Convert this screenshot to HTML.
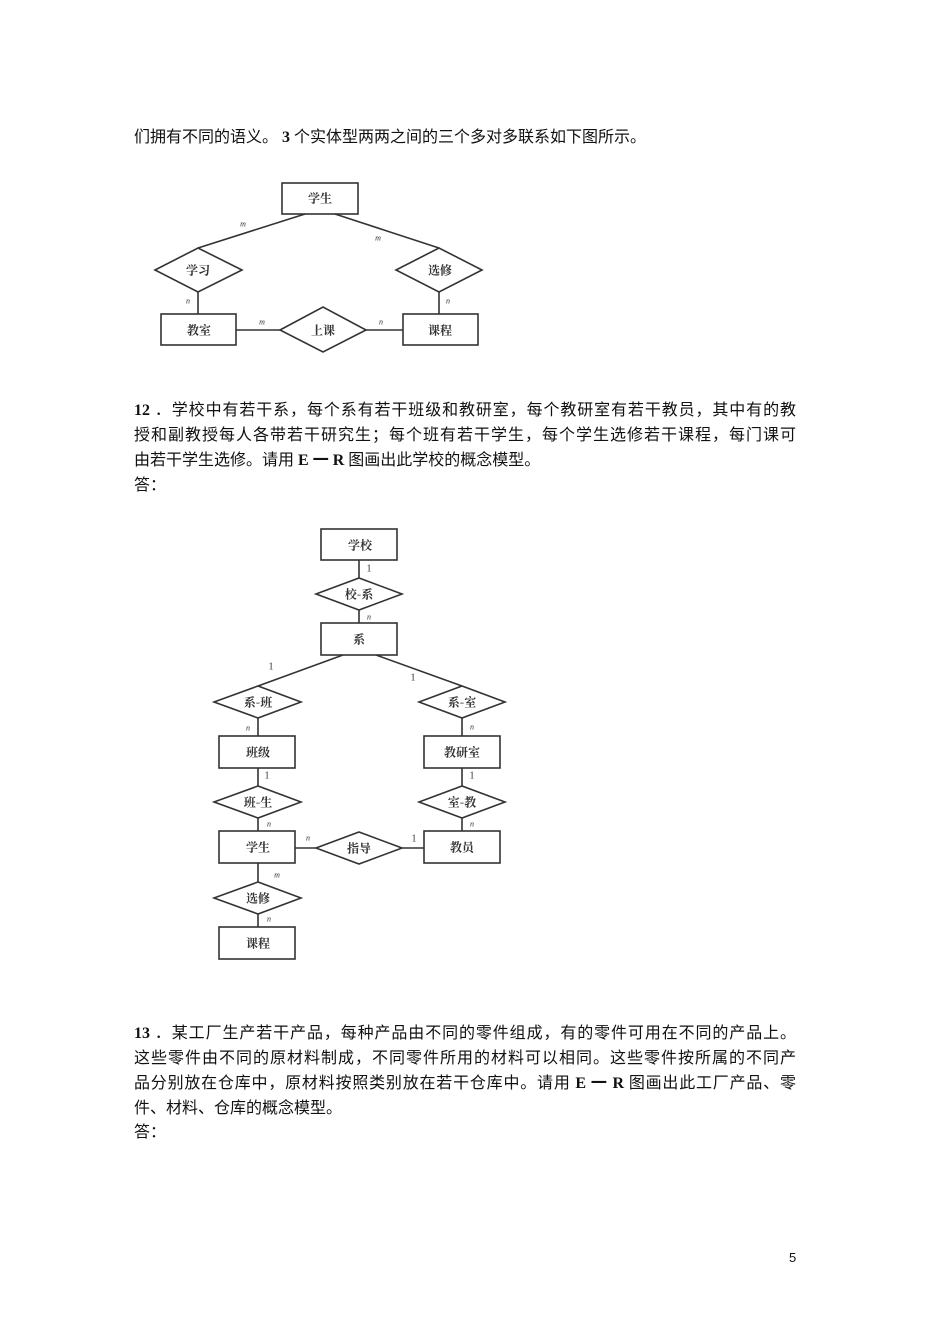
<!DOCTYPE html>
<html><head><meta charset="utf-8"><style>
body{margin:0;background:#fff;width:950px;height:1344px;position:relative;overflow:hidden;font-family:"Liberation Serif","Noto Sans CJK SC",sans-serif;color:#111}
.l{position:absolute;left:134px;font-size:16px;line-height:20px;white-space:nowrap}
.j{width:662px;text-align:justify;text-align-last:justify}
svg{position:absolute;left:0;top:0}
svg text{font-family:"Noto Serif CJK SC","Noto Sans CJK SC",serif;font-size:12px;font-weight:bold;text-anchor:middle;dominant-baseline:central;fill:#333}
svg text.s{font-family:"Liberation Serif",serif;font-style:italic;font-weight:normal;font-size:8px}
</style></head><body>
<div class="l" style="top:128px">们拥有不同的语义。 <b>3</b> 个实体型两两之间的三个多对多联系如下图所示。</div>
<div class="l j" style="top:401px"><b>12</b> ．学校中有若干系，每个系有若干班级和教研室，每个教研室有若干教员，其中有的教</div>
<div class="l j" style="top:426px">授和副教授每人各带若干研究生；每个班有若干学生，每个学生选修若干课程，每门课可</div>
<div class="l" style="top:451px">由若干学生选修。请用 <b>E 一 R</b> 图画出此学校的概念模型。</div>
<div class="l" style="top:476px">答：</div>
<div class="l j" style="top:1024px"><b>13</b> ．某工厂生产若干产品，每种产品由不同的零件组成，有的零件可用在不同的产品上。</div>
<div class="l j" style="top:1049px">这些零件由不同的原材料制成，不同零件所用的材料可以相同。这些零件按所属的不同产</div>
<div class="l j" style="top:1074px">品分别放在仓库中，原材料按照类别放在若干仓库中。请用 <b>E 一 R</b> 图画出此工厂产品、零</div>
<div class="l" style="top:1099px">件、材料、仓库的概念模型。</div>
<div class="l" style="top:1123px">答：</div>
<div class="l" style="top:1248px;left:789px;font-family:'Liberation Sans',sans-serif;font-size:13px">5</div>
<svg width="950" height="1344" stroke="#333" stroke-width="1.6" fill="none">
<line x1="305" y1="214" x2="198" y2="248"/><line x1="335" y1="214" x2="439" y2="248"/>
<line x1="198" y1="292" x2="198" y2="314"/><line x1="439" y1="292" x2="439" y2="314"/>
<line x1="236" y1="330" x2="280" y2="330"/><line x1="366" y1="330" x2="403" y2="330"/>
<rect x="282" y="183" width="76" height="31"/>
<rect x="161" y="314" width="75" height="31"/>
<rect x="403" y="314" width="75" height="31"/>
<polygon points="155,270 198,248 242,270 198,292"/>
<polygon points="396,270 439,248 482,270 439,292"/>
<polygon points="280,330 323,307 366,330 323,352"/>
<g stroke="none">
<text x="320" y="198">学生</text><text x="198" y="270">学习</text><text x="440" y="270">选修</text>
<text x="199" y="330">教室</text><text x="323" y="330">上课</text><text x="440" y="330">课程</text>
<text class="s" x="243" y="224">m</text><text class="s" x="378" y="238">m</text>
<text class="s" x="188" y="301">n</text><text class="s" x="448" y="301">n</text>
<text class="s" x="262" y="322">m</text><text class="s" x="381" y="322">n</text>
</g>
<line x1="359" y1="560" x2="359" y2="578"/><line x1="359" y1="610" x2="359" y2="623"/>
<line x1="343" y1="655" x2="258" y2="686"/><line x1="376" y1="655" x2="462" y2="686"/>
<line x1="258" y1="718" x2="258" y2="736"/><line x1="258" y1="768" x2="258" y2="786"/>
<line x1="258" y1="818" x2="258" y2="831"/><line x1="258" y1="863" x2="258" y2="882"/>
<line x1="258" y1="914" x2="258" y2="927"/>
<line x1="462" y1="718" x2="462" y2="736"/><line x1="462" y1="768" x2="462" y2="786"/>
<line x1="462" y1="818" x2="462" y2="831"/>
<line x1="295" y1="848" x2="316" y2="848"/><line x1="402" y1="848" x2="424" y2="848"/>
<rect x="321" y="529" width="76" height="31"/>
<rect x="321" y="623" width="76" height="32"/>
<rect x="219" y="736" width="76" height="32"/>
<rect x="219" y="831" width="76" height="32"/>
<rect x="219" y="927" width="76" height="32"/>
<rect x="424" y="736" width="76" height="32"/>
<rect x="424" y="831" width="76" height="32"/>
<polygon points="316,594 359,578 402,594 359,610"/>
<polygon points="214,702 258,686 301,702 258,718"/>
<polygon points="214,802 258,786 301,802 258,818"/>
<polygon points="214,898 258,882 301,898 258,914"/>
<polygon points="419,702 462,686 505,702 462,718"/>
<polygon points="419,802 462,786 505,802 462,818"/>
<polygon points="316,848 359,832 402,848 359,864"/>
<g stroke="none">
<text x="360" y="545">学校</text><text x="359" y="594">校-系</text><text x="359" y="639">系</text>
<text x="258" y="702">系-班</text><text x="258" y="752">班级</text><text x="258" y="802">班-生</text>
<text x="258" y="847">学生</text><text x="258" y="898">选修</text><text x="258" y="943">课程</text>
<text x="462" y="702">系-室</text><text x="462" y="752">教研室</text><text x="462" y="802">室-教</text>
<text x="462" y="847">教员</text><text x="359" y="848">指导</text>
<text class="s" x="369" y="569" style="font-style:normal;font-size:10px">1</text>
<text class="s" x="369" y="617">n</text>
<text class="s" x="271" y="667" style="font-style:normal;font-size:10px">1</text>
<text class="s" x="413" y="678" style="font-style:normal;font-size:10px">1</text>
<text class="s" x="248" y="728">n</text><text class="s" x="472" y="727">n</text>
<text class="s" x="267" y="776" style="font-style:normal;font-size:10px">1</text>
<text class="s" x="472" y="776" style="font-style:normal;font-size:10px">1</text>
<text class="s" x="269" y="824">n</text><text class="s" x="472" y="824">n</text>
<text class="s" x="308" y="838">n</text>
<text class="s" x="414" y="839" style="font-style:normal;font-size:10px">1</text>
<text class="s" x="277" y="875">m</text><text class="s" x="269" y="919">n</text>
</g>
</svg>
</body></html>
